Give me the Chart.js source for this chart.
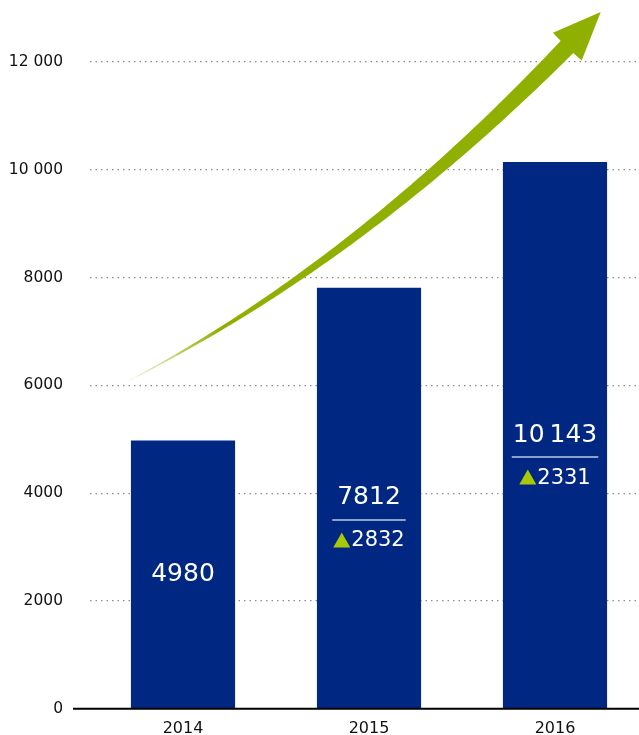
<!DOCTYPE html>
<html>
<head>
<meta charset="utf-8">
<script src="https://cdn.jsdelivr.net/npm/chart.js@4/dist/chart.umd.min.js"></script>
<style>
  html, body { margin: 0; padding: 0; background: #fff; overflow: hidden; }
  #wrap { width: 639px; height: 735px; overflow: hidden; }
</style>
</head>
<body>
<div id="wrap"><canvas id="myBarChart" width="660" height="748"></canvas></div>
<script>
// chart data
var years = ['2014', '2015', '2016'];
var values = [4980, 7812, 10143];
var changes = [null, 2832, 2331];
var yTickLabels = ['0', '2000', '4000', '6000', '8000', '10 000', '12 000'];

var FONT = '"DejaVu Sans", sans-serif';

// 10143 -> "10 143" (thin space), 4-digit numbers stay as they are
function fmt(v) {
    var s = String(v);
    return v >= 10000 ? s.slice(0, s.length - 3) + '\u2009' + s.slice(-3) : s;
}

// white value labels in the middle of each bar, with the change below
var barLabels = {
    id: 'barLabels',
    afterDatasetsDraw: function (chart) {
        var ctx = chart.ctx;
        var meta = chart.getDatasetMeta(0);
        ctx.save();
        meta.data.forEach(function (bar, i) {
            var mid = (bar.y + bar.base) / 2;
            ctx.fillStyle = '#fff';
            ctx.textAlign = 'center';
            ctx.textBaseline = 'middle';
            ctx.font = '25px ' + FONT;
            var big = fmt(values[i]);
            var bigW = ctx.measureText(big).width;
            ctx.fillText(big, bar.x, mid);
            if (changes[i] == null) return;

            ctx.font = '21px ' + FONT;
            var txt = String(changes[i]);
            var tw = ctx.measureText(txt).width;
            var triW = 17, gap = 1;
            var groupW = triW + gap + tw;
            var lineW = Math.max(bigW, groupW) + 2;

            ctx.strokeStyle = 'rgba(255,255,255,0.75)';
            ctx.lineWidth = 1.5;
            ctx.beginPath();
            ctx.moveTo(bar.x - lineW / 2, mid + 22);
            ctx.lineTo(bar.x + lineW / 2, mid + 22);
            ctx.stroke();

            var gx = bar.x - groupW / 2;
            var cy = mid + 42;
            ctx.fillStyle = '#a8c80a';
            ctx.beginPath();
            ctx.moveTo(gx, cy + 7.5);
            ctx.lineTo(gx + triW, cy + 7.5);
            ctx.lineTo(gx + triW / 2, cy - 7.5);
            ctx.closePath();
            ctx.fill();

            ctx.fillStyle = '#fff';
            ctx.textAlign = 'left';
            ctx.fillText(txt, gx + triW + gap, cy + 1);
        });
        ctx.restore();
    }
};

// black base line and the green growth arrow
var decorations = {
    id: 'decorations',
    afterDatasetsDraw: function (chart) {
        var ctx = chart.ctx;
        var x = chart.scales.x, y = chart.scales.y;
        ctx.save();

        var by = y.getPixelForValue(0);
        ctx.strokeStyle = '#000';
        ctx.lineWidth = 2;
        ctx.beginPath();
        ctx.moveTo(73, by);
        ctx.lineTo(chart.width, by);
        ctx.stroke();

        // arrow path, placed on the chart scales
        var p0 = { x: x.getPixelForValue(-0.285), y: y.getPixelForValue(6100) };
        var c = { x: x.getPixelForValue(0.95), y: y.getPixelForValue(8310) };
        var p2 = { x: x.getPixelForValue(2.07), y: y.getPixelForValue(12300) };

        var n = 80, left = [], right = [];
        for (var k = 0; k <= n; k++) {
            var t = k / n;
            var px = (1 - t) * (1 - t) * p0.x + 2 * (1 - t) * t * c.x + t * t * p2.x;
            var py = (1 - t) * (1 - t) * p0.y + 2 * (1 - t) * t * c.y + t * t * p2.y;
            var dx = 2 * (1 - t) * (c.x - p0.x) + 2 * t * (p2.x - c.x);
            var dy = 2 * (1 - t) * (c.y - p0.y) + 2 * t * (p2.y - c.y);
            var len = Math.sqrt(dx * dx + dy * dy);
            var nx = -dy / len, ny = dx / len;
            var w = 0.3 + 8.5 * Math.pow(t, 1.1);
            left.push([px + nx * w, py + ny * w]);
            right.push([px - nx * w, py - ny * w]);
        }
        var grad = ctx.createLinearGradient(p0.x, p0.y, c.x, c.y);
        grad.addColorStop(0, 'rgba(143,176,0,0.15)');
        grad.addColorStop(0.4, '#8fb000');
        grad.addColorStop(1, '#8fb000');
        ctx.fillStyle = grad;
        ctx.beginPath();
        ctx.moveTo(left[0][0], left[0][1]);
        left.forEach(function (p) { ctx.lineTo(p[0], p[1]); });
        for (var j = right.length - 1; j >= 0; j--) ctx.lineTo(right[j][0], right[j][1]);
        ctx.closePath();
        ctx.fill();

        // arrow head along the end tangent
        var ax = p2.x - c.x, ay = p2.y - c.y;
        var al = Math.sqrt(ax * ax + ay * ay);
        var ux = ax / al, uy = ay / al;
        var tipX = p2.x + ux * 47, tipY = p2.y + uy * 47;
        ctx.fillStyle = '#8fb000';
        ctx.beginPath();
        ctx.moveTo(tipX, tipY);
        ctx.lineTo(p2.x - uy * 20 - ux, p2.y + ux * 20 - uy);
        ctx.lineTo(p2.x - ux * 2, p2.y - uy * 2);
        ctx.lineTo(p2.x + uy * 20 - ux, p2.y - ux * 20 - uy);
        ctx.closePath();
        ctx.fill();
        ctx.restore();
    }
};

var data = {
    labels: years,
    datasets: [{
        data: values,
        backgroundColor: '#002882',
        barPercentage: 0.56,
        categoryPercentage: 1
    }]
};

var config = {
    type: 'bar',
    data: data,
    plugins: [barLabels, decorations],
    options: {
        responsive: false,
        animation: false,
        layout: { padding: { top: 62, right: 12, left: 0, bottom: 0 } },
        plugins: {
            legend: { display: false },
            tooltip: { enabled: false }
        },
        scales: {
            x: {
                grid: { display: false, drawTicks: false },
                border: { display: false },
                ticks: { color: '#111', font: { family: FONT, size: 16 }, padding: 10 }
            },
            y: {
                min: 0,
                max: 12000,
                grid: {
                    drawTicks: false,
                    color: function (c) { return c.tick.value === 0 ? 'rgba(0,0,0,0)' : '#8c8c8c'; },
                    lineWidth: 1.3
                },
                border: { display: false, dash: [1.5, 4] },
                ticks: {
                    stepSize: 2000,
                    color: '#111',
                    padding: 27,
                    font: { family: FONT, size: 15.5 },
                    callback: function (v, i) { return yTickLabels[i]; }
                },
                afterFit: function (s) { s.width = 90; }
            }
        }
    }
};

var ctx = document.getElementById('myBarChart').getContext('2d');
var myBarChart = new Chart(ctx, config);
</script>
</body>
</html>
